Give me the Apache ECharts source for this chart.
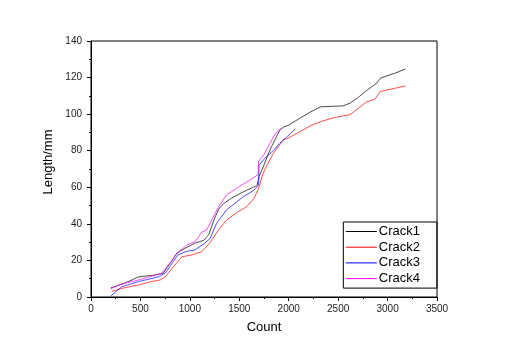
<!DOCTYPE html>
<html>
<head>
<meta charset="utf-8">
<script src="https://cdn.jsdelivr.net/npm/echarts@6/dist/echarts.min.js"></script>
<style>html,body{margin:0;padding:0;background:#fff}#c{width:507px;height:359px}</style>
</head>
<body>
<div id="c"></div>
<script>
var seriesNames = ['Crack1', 'Crack2', 'Crack3', 'Crack4'];
var xTicks = ['0', '500', '1000', '1500', '2000', '2500', '3000', '3500'];
var yTicks = ['0', '20', '40', '60', '80', '100', '120', '140'];

var crack1Count = [200, 340, 480, 500, 650, 730, 820, 870, 950, 1050, 1140, 1190, 1250, 1290, 1340, 1420, 1510, 1600, 1680, 1700, 1730, 1810, 1870, 1910, 1950, 2000, 2110, 2215, 2320, 2450, 2550, 2620, 2690, 2790, 2890, 2925, 2990, 3080, 3180];
var crack1Len   = [5, 7.5, 11, 12, 12, 13, 20, 24, 26.6, 29.4, 31, 34, 43, 48, 51, 54, 56.7, 59, 61, 66, 69.5, 80.4, 87, 91.3, 93, 94, 97.7, 101, 104, 104.3, 104.5, 106, 108.6, 113, 116.9, 119.6, 120.9, 122.5, 124.7];

var crack2Count = [210, 310, 480, 610, 700, 750, 820, 920, 1020, 1120, 1200, 1290, 1370, 1470, 1575, 1650, 1700, 1730, 1760, 1845, 1945, 1980, 2100, 2215, 2330, 2450, 2550, 2620, 2700, 2790, 2870, 2925, 2990, 3080, 3180];
var crack2Len   = [3, 4.7, 6.6, 8.4, 9.3, 11, 15.7, 22, 23, 24.8, 29.4, 36.6, 42, 46, 49.4, 54, 60, 66, 70, 78.6, 86, 86.5, 90, 93.5, 96, 98, 99, 99.7, 103, 106.8, 108, 112.3, 113.2, 114.2, 115.4];

var crack3Count = [200, 310, 480, 680, 750, 820, 880, 970, 1050, 1140, 1205, 1270, 1370, 1540, 1650, 1695, 1700, 1760, 1850, 1910, 1990, 2063];
var crack3Len   = [0.5, 5.6, 8.4, 11, 13, 18.4, 23, 25, 25.7, 29, 32, 40.3, 47.6, 54.8, 58.5, 61, 72, 76, 80.4, 84, 88, 91.7];

var crack4Count = [200, 310, 480, 715, 820, 870, 970, 1050, 1090, 1120, 1170, 1255, 1300, 1370, 1490, 1610, 1690, 1695, 1750, 1800, 1860, 1930];
var crack4Len   = [4.5, 7.1, 9.3, 13, 20, 24, 28.4, 30.2, 33, 35.5, 36.6, 45.8, 50, 55.8, 60, 64, 67, 74, 78, 83, 89, 92.5];

var colors = ['#000000', '#ff0000', '#0000ff', '#ff00ff'];

function pairs(xs, ys) { return xs.map(function (x, i) { return [x, ys[i]]; }); }
var allData = [pairs(crack1Count, crack1Len), pairs(crack2Count, crack2Len), pairs(crack3Count, crack3Len), pairs(crack4Count, crack4Len)];

var chart = echarts.init(document.getElementById('c'), null, {renderer: 'canvas'});
var font = 'Liberation Sans, Arial, sans-serif';
chart.setOption({
  animation: false,
  backgroundColor: '#fff',
  grid: {left: 91, right: 70, top: 41, bottom: 62, show: true, borderColor: '#000', borderWidth: 1, backgroundColor: 'transparent'},
  legend: {
    orient: 'vertical', right: 70, top: 222,
    data: seriesNames,
    itemWidth: 31, itemHeight: 10, itemGap: 2.7,
    padding: [3, 17, 3, 2],
    borderColor: '#000', borderWidth: 1,
    itemStyle: {opacity: 0},
    lineStyle: {width: 1},
    textStyle: {fontFamily: font, fontSize: 13, lineHeight: 12, color: '#000', padding: [0, 0, 0, -3]}
  },
  xAxis: {
    type: 'value', min: 0, max: 3500, interval: 500,
    name: 'Count', nameLocation: 'middle', nameGap: 24,
    nameTextStyle: {fontFamily: font, fontSize: 13, color: '#000'},
    axisLine: {show: true, lineStyle: {color: '#000', width: 1}},
    axisTick: {show: true, inside: false, length: 4, lineStyle: {color: '#000'}},
    minorTick: {show: true, splitNumber: 2, length: 2, lineStyle: {color: '#000'}},
    splitLine: {show: false},
    axisLabel: {fontFamily: font, fontSize: 10, color: '#222', margin: 7,
      formatter: function (v) { return xTicks[Math.round(v / 500)]; }}
  },
  yAxis: {
    type: 'value', min: 0, max: 140, interval: 20,
    axisLine: {show: true, lineStyle: {color: '#000', width: 1}},
    axisTick: {show: true, inside: false, length: 4, lineStyle: {color: '#000'}},
    minorTick: {show: true, splitNumber: 2, length: 2, lineStyle: {color: '#000'}},
    splitLine: {show: false},
    axisLabel: {fontFamily: font, fontSize: 10, color: '#222', margin: 9,
      formatter: function (v) { return yTicks[Math.round(v / 20)]; }}
  },
  graphic: [{
    type: 'text', x: 48, y: 162, rotation: Math.PI / 2,
    style: {text: 'Length/mm', fontFamily: font, fontSize: 13, fill: '#000', align: 'center', verticalAlign: 'middle'}
  }],
  series: seriesNames.map(function (n, i) {
    return {
      name: n, type: 'line', data: allData[i], symbol: 'none', showSymbol: false,
      lineStyle: {color: colors[i], width: 0.7}, itemStyle: {color: colors[i]}
    };
  })
});
</script>
</body>
</html>
